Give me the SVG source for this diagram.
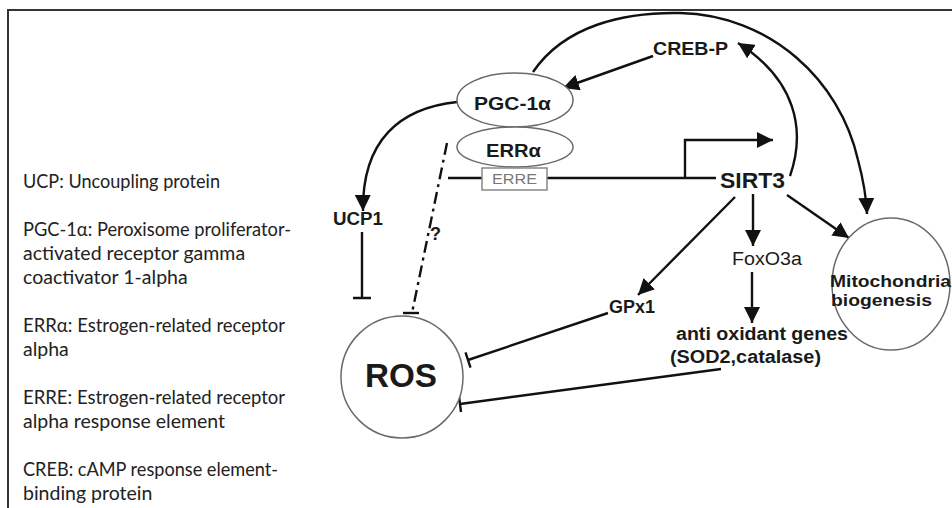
<svg xmlns="http://www.w3.org/2000/svg" width="952" height="508" viewBox="0 0 952 508">
<style>
.lg{font-family:Lato,"Open Sans","Liberation Sans",sans-serif;font-size:19.5px;fill:#222}
.lb{font-family:"Liberation Sans",Arial,sans-serif;font-weight:bold;font-size:18px;fill:#1a1a1a}
.lr{font-family:"Liberation Sans",Arial,sans-serif;font-size:18px;fill:#1a1a1a}
.nd{fill:#fff;stroke:#6a6a6a;stroke-width:1.5}
.ln{fill:none;stroke:#111;stroke-width:2.4}
.ar{marker-end:url(#ah)}
</style>
<defs>
<marker id="ah" markerUnits="userSpaceOnUse" markerWidth="18" markerHeight="16" refX="16" refY="8" orient="auto" viewBox="0 0 18 16">
<path d="M0,0 L16,8 L0,16 Z" fill="#111"/>
</marker>
</defs>
<rect width="952" height="508" fill="#fff"/>
<g id="frame" stroke="#333" stroke-width="2" fill="none">
<path d="M8,508 V10 H952"/>
</g>
<g id="legend">
<text class="lg" x="23" y="188" textLength="197" lengthAdjust="spacingAndGlyphs">UCP: Uncoupling  protein</text>
<text class="lg" x="23" y="236" textLength="268" lengthAdjust="spacingAndGlyphs">PGC-1α: Peroxisome proliferator-</text>
<text class="lg" x="23" y="260">activated receptor gamma</text>
<text class="lg" x="23" y="284">coactivator 1-alpha</text>
<text class="lg" x="23" y="332" textLength="262" lengthAdjust="spacingAndGlyphs">ERRα: Estrogen-related receptor</text>
<text class="lg" x="23" y="356">alpha</text>
<text class="lg" x="23" y="404" textLength="262" lengthAdjust="spacingAndGlyphs">ERRE: Estrogen-related receptor</text>
<text class="lg" x="23" y="428">alpha response element</text>
<text class="lg" x="23" y="476" textLength="255" lengthAdjust="spacingAndGlyphs">CREB: cAMP response element-</text>
<text class="lg" x="23" y="500">binding protein</text>
</g>
<g id="connectors">
<path class="ln ar" d="M533,72 C565,25 625,12 680,13 C770,15 840,80 858,160 Q866,190 867,214"/>
<path class="ln ar" d="M653,56 L563,88"/>
<path class="ln ar" d="M790,176 C806,130 796,80 738,43"/>
<path class="ln ar" d="M457,102 C400,108 362,140 363,211"/>
<path class="ln" d="M448,178 H716"/>
<path class="ln ar" d="M685,178 V140 H773"/>
<path class="ln" d="M362,232 V298 M353,298 H371"/>
<path class="ln" d="M447,143 L412,313" stroke-dasharray="12,5,3,5"/>
<path class="ln" d="M403,313 H419"/>
<path class="ln ar" d="M735,197 L638,295"/>
<path class="ln ar" d="M753,194 V246"/>
<path class="ln ar" d="M787,195 L849,238"/>
<path class="ln ar" d="M752,272 V323"/>
<path class="ln" d="M608,313 L468,360 M465.5,352.4 L470.5,367.6"/>
<path class="ln" d="M721,369 L460,404 M459,396 L461,412"/>
</g>
<g id="pgc">
<ellipse class="nd" cx="515" cy="100" rx="58" ry="27"/>
<text class="lb" x="474" y="110" textLength="77" lengthAdjust="spacingAndGlyphs">PGC-1α</text>
</g>
<g id="erra">
<ellipse class="nd" cx="515" cy="147" rx="58" ry="20"/>
<text class="lb" x="486" y="157" textLength="55" lengthAdjust="spacingAndGlyphs">ERRα</text>
</g>
<g id="erre">
<rect x="482" y="168" width="65" height="22" fill="#fff" stroke="#888" stroke-width="1.5"/>
<text x="492" y="184" font-family="Liberation Sans,Arial,sans-serif" font-size="14" fill="#777" textLength="45" lengthAdjust="spacingAndGlyphs">ERRE</text>
</g>
<g id="crebp"><text class="lb" x="653" y="55" textLength="75" lengthAdjust="spacingAndGlyphs">CREB-P</text></g>
<g id="sirt3"><text class="lb" x="720" y="188" style="font-size:22px" textLength="65" lengthAdjust="spacingAndGlyphs">SIRT3</text></g>
<g id="ucp1"><text class="lb" x="333" y="225" textLength="50" lengthAdjust="spacingAndGlyphs">UCP1</text></g>
<g id="q"><text class="lb" x="430" y="240">?</text></g>
<g id="gpx1"><text class="lb" x="609" y="313" textLength="46" lengthAdjust="spacingAndGlyphs">GPx1</text></g>
<g id="foxo3a"><text class="lr" x="732" y="265" textLength="70" lengthAdjust="spacingAndGlyphs">FoxO3a</text></g>
<g id="antiox">
<text class="lb" x="676" y="340" textLength="172" lengthAdjust="spacingAndGlyphs">anti oxidant genes</text>
<text class="lb" x="670" y="363" textLength="151" lengthAdjust="spacingAndGlyphs">(SOD2,catalase)</text>
</g>
<g id="mito">
<ellipse class="nd" cx="891" cy="284" rx="59" ry="66"/>
<text class="lb" x="830" y="287" style="font-size:16px" textLength="121" lengthAdjust="spacingAndGlyphs">Mitochondria</text>
<text class="lb" x="831" y="306" style="font-size:16px" textLength="101" lengthAdjust="spacingAndGlyphs">biogenesis</text>
</g>
<g id="ros">
<circle class="nd" cx="402" cy="377" r="61"/>
<text class="lb" x="365" y="387" style="font-size:33px" textLength="72" lengthAdjust="spacingAndGlyphs">ROS</text>
</g>
</svg>
